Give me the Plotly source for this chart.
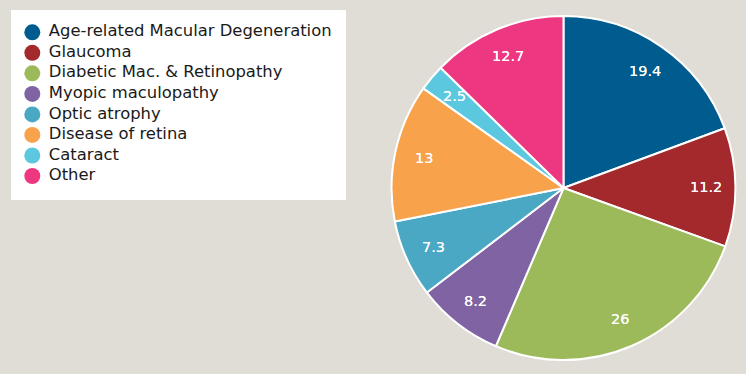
import math
import plotly.graph_objects as go

labels = ["Age-related Macular Degeneration", "Glaucoma", "Diabetic Mac. & Retinopathy",
          "Myopic maculopathy", "Optic atrophy", "Disease of retina", "Cataract", "Other"]
values = [19.4, 11.2, 26, 8.2, 7.3, 13, 2.5, 12.7]
colors = ["#005b8e", "#a3292c", "#9dba5a", "#8063a3", "#4aa8c4", "#f8a24c", "#5bc8e0", "#ee3781"]

BG = "#e0dcd6"
FONT = "DejaVu Sans"
W, H = 746, 374
PIE_DOMAIN = dict(x=[0.5248, 0.9859], y=[0.0374, 0.957])
LABEL_R = 0.83

# pie geometry in paper units (derived from the domain)
cx = (PIE_DOMAIN["x"][0] + PIE_DOMAIN["x"][1]) / 2
cy = (PIE_DOMAIN["y"][0] + PIE_DOMAIN["y"][1]) / 2
rad_px = min((PIE_DOMAIN["x"][1] - PIE_DOMAIN["x"][0]) * W,
             (PIE_DOMAIN["y"][1] - PIE_DOMAIN["y"][0]) * H) / 2

# slice mid-angles (clockwise from 12 o'clock), derived from values
total = sum(values)
mids, acc = [], 0.0
for v in values:
    mids.append((acc + v / 2) / total * 360)
    acc += v

fig = go.Figure()
fig.add_trace(go.Pie(
    labels=labels, values=values, sort=False, direction="clockwise", rotation=0,
    marker=dict(colors=colors, line=dict(color="white", width=2)),
    textinfo="none", showlegend=False, hoverinfo="label+value",
    domain=PIE_DOMAIN,
))

annotations = []
for v, t in zip(values, mids):
    a = math.radians(t)
    annotations.append(dict(
        xref="paper", yref="paper", showarrow=False,
        x=cx + LABEL_R * rad_px * math.sin(a) / W,
        y=cy + LABEL_R * rad_px * math.cos(a) / H,
        text=f"{v:g}", xanchor="center", yanchor="middle",
        font=dict(color="white", size=14.5, family=FONT,
                  shadow="0px 0px 0.6px white"),
    ))

# legend rows
idx = list(range(len(labels)))
fig.add_trace(go.Scatter(
    x=[0] * len(labels), y=idx, mode="markers",
    marker=dict(color=colors, size=16, symbol="circle", line=dict(width=0)),
    showlegend=False, hoverinfo="skip",
))
fig.add_trace(go.Scatter(
    x=[16.5] * len(labels), y=idx, mode="text", text=labels, textposition="middle right",
    textfont=dict(family=FONT, size=16.4, color="#1a1a1a"),
    showlegend=False, hoverinfo="skip",
))

fig.update_layout(
    width=W, height=H,
    margin=dict(l=0, r=0, t=0, b=0),
    paper_bgcolor=BG, plot_bgcolor="rgba(0,0,0,0)",
    xaxis=dict(visible=False, range=[-32.3, W - 32.3], fixedrange=True),
    yaxis=dict(visible=False, range=[(H - 32.3) / 20.53, -32.3 / 20.53], fixedrange=True),
    shapes=[dict(type="rect", xref="paper", yref="paper", layer="below",
                 x0=11 / W, x1=346 / W, y0=1 - 200 / H, y1=1 - 10 / H,
                 fillcolor="white", line=dict(width=0))],
    annotations=annotations,
    font=dict(family=FONT),
    showlegend=False,
)
fig.write_html("out.html", config={"displayModeBar": False},
               post_script="document.body.style.margin='0';")
